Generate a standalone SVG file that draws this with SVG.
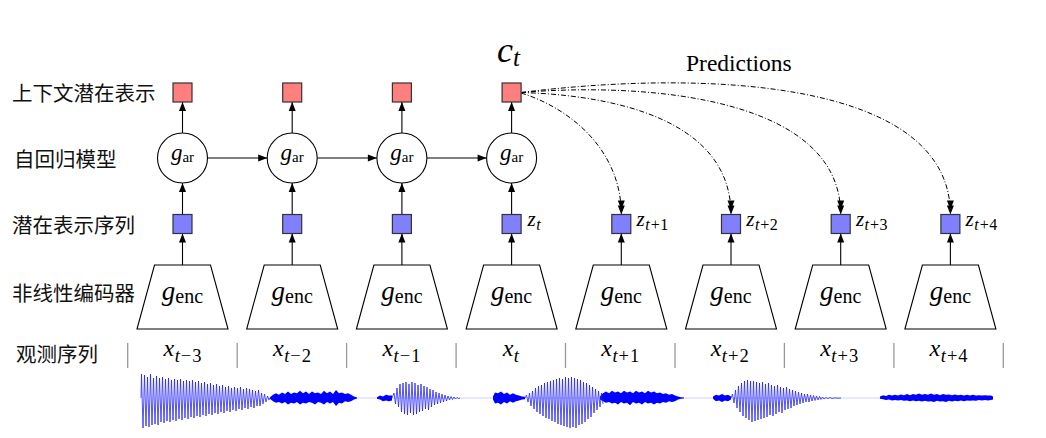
<svg xmlns="http://www.w3.org/2000/svg" width="1046" height="438" viewBox="0 0 1046 438">
<style>
.lbl{font-family:"Noto Sans CJK SC","Noto Sans",sans-serif;font-size:20.5px;fill:#111}
.m{font-family:"Liberation Serif","DejaVu Serif",serif;fill:#000}
.mi{font-style:italic}
.ctx{fill:#ff7f7f;stroke:#333;stroke-width:1.2}
.lat{fill:#8080ff;stroke:#333;stroke-width:1.2}
.ar{fill:#fff;stroke:#000;stroke-width:1.1}
.enc{fill:#fff;stroke:#000;stroke-width:1.1}
.ln{stroke:#000;stroke-width:1.1;fill:none;marker-end:url(#arr)}
.pd{stroke:#000;stroke-width:1;fill:none;stroke-dasharray:5 2 1 2;marker-end:url(#arr2)}
.sep{stroke:#999;stroke-width:1.3}
.wv{fill:none;stroke:#1a1aff;stroke-width:0.75;stroke-linejoin:round}
.band{fill:#0000ff;stroke:none}
</style>
<defs>
<marker id="arr" markerUnits="userSpaceOnUse" markerWidth="10" markerHeight="8" refX="9" refY="3.5" orient="auto" overflow="visible">
<path d="M0,0 L9,3.5 L0,7 Z" fill="#000"/>
</marker>
<marker id="arr2" markerUnits="userSpaceOnUse" markerWidth="15" markerHeight="8" refX="14" refY="3.5" orient="auto" overflow="visible">
<path d="M0,0 L9,3.5 L0,7 Z M5,0 L14,3.5 L5,7 Z" fill="#000"/>
</marker>
</defs>
<rect width="1046" height="438" fill="#fff"/>

<g id="row-labels">
<text class="lbl" x="12" y="101">上下文潜在表示</text>
<text class="lbl" x="14" y="167">自回归模型</text>
<text class="lbl" x="12" y="232.5">潜在表示序列</text>
<text class="lbl" x="12" y="301">非线性编码器</text>
<text class="lbl" x="16" y="361.5">观测序列</text>
</g>

<g id="ct-label">
<text class="m mi" x="497" y="62" font-size="36">c</text>
<text class="m mi" x="513" y="66" font-size="25">t</text>
</g>
<g id="predictions-label">
<text class="m" x="686" y="71" font-size="23.5">Predictions</text>
</g>

<g id="connectors">
<line class="ln" x1="182.5" y1="133" x2="182.5" y2="102"/>
<line class="ln" x1="292.2" y1="133" x2="292.2" y2="102"/>
<line class="ln" x1="401.9" y1="133" x2="401.9" y2="102"/>
<line class="ln" x1="511.6" y1="133" x2="511.6" y2="102"/>
<line class="ln" x1="207.5" y1="158" x2="267.2" y2="158"/>
<line class="ln" x1="317.2" y1="158" x2="376.9" y2="158"/>
<line class="ln" x1="426.9" y1="158" x2="486.6" y2="158"/>
<line class="ln" x1="182.5" y1="214.5" x2="182.5" y2="183"/>
<line class="ln" x1="292.2" y1="214.5" x2="292.2" y2="183"/>
<line class="ln" x1="401.9" y1="214.5" x2="401.9" y2="183"/>
<line class="ln" x1="511.6" y1="214.5" x2="511.6" y2="183"/>
<line class="ln" x1="182.5" y1="265" x2="182.5" y2="233.5"/>
<line class="ln" x1="292.2" y1="265" x2="292.2" y2="233.5"/>
<line class="ln" x1="401.9" y1="265" x2="401.9" y2="233.5"/>
<line class="ln" x1="511.6" y1="265" x2="511.6" y2="233.5"/>
<line class="ln" x1="621.3" y1="265" x2="621.3" y2="233.5"/>
<line class="ln" x1="731" y1="265" x2="731" y2="233.5"/>
<line class="ln" x1="840.7" y1="265" x2="840.7" y2="233.5"/>
<line class="ln" x1="950.4" y1="265" x2="950.4" y2="233.5"/>
<path class="pd" d="M521.1,93 C570,108 621.3,150 621.3,214.5"/>
<path class="pd" d="M521.1,92.5 C610,95 731,118 731,214.5"/>
<path class="pd" d="M521.1,92.5 C650,82 840.7,98 840.7,214.5"/>
<path class="pd" d="M521.1,92.5 C700,70 950.4,78 950.4,214.5"/>
</g>

<g id="ctx0"><rect class="ctx" x="173" y="83" width="19" height="19"/></g>
<g id="ctx1"><rect class="ctx" x="282.7" y="83" width="19" height="19"/></g>
<g id="ctx2"><rect class="ctx" x="392.4" y="83" width="19" height="19"/></g>
<g id="ctx3"><rect class="ctx" x="502.1" y="83" width="19" height="19"/></g>

<g id="gar0"><circle class="ar" cx="182.5" cy="158" r="25"/><text class="m" x="182.5" y="160" text-anchor="middle"><tspan class="mi" font-size="23">g</tspan><tspan font-size="15" dy="2">ar</tspan></text></g>
<g id="gar1"><circle class="ar" cx="292.2" cy="158" r="25"/><text class="m" x="292.2" y="160" text-anchor="middle"><tspan class="mi" font-size="23">g</tspan><tspan font-size="15" dy="2">ar</tspan></text></g>
<g id="gar2"><circle class="ar" cx="401.9" cy="158" r="25"/><text class="m" x="401.9" y="160" text-anchor="middle"><tspan class="mi" font-size="23">g</tspan><tspan font-size="15" dy="2">ar</tspan></text></g>
<g id="gar3"><circle class="ar" cx="511.6" cy="158" r="25"/><text class="m" x="511.6" y="160" text-anchor="middle"><tspan class="mi" font-size="23">g</tspan><tspan font-size="15" dy="2">ar</tspan></text></g>

<g id="z0"><rect class="lat" x="173" y="214.5" width="19" height="19"/></g>
<g id="z1"><rect class="lat" x="282.7" y="214.5" width="19" height="19"/></g>
<g id="z2"><rect class="lat" x="392.4" y="214.5" width="19" height="19"/></g>
<g id="z3"><rect class="lat" x="502.1" y="214.5" width="19" height="19"/><text class="m" x="527.5" y="226"><tspan class="mi" font-size="21">z</tspan><tspan class="mi" font-size="16" dy="4" dx="0.5">t</tspan></text></g>
<g id="z4"><rect class="lat" x="611.8" y="214.5" width="19" height="19"/><text class="m" x="636.5" y="226"><tspan class="mi" font-size="21">z</tspan><tspan class="mi" font-size="16" dy="4" dx="0.5">t</tspan><tspan font-size="16" dx="1">+</tspan><tspan font-size="16" dx="0.5">1</tspan></text></g>
<g id="z5"><rect class="lat" x="721.5" y="214.5" width="19" height="19"/><text class="m" x="746.2" y="226"><tspan class="mi" font-size="21">z</tspan><tspan class="mi" font-size="16" dy="4" dx="0.5">t</tspan><tspan font-size="16" dx="1">+</tspan><tspan font-size="16" dx="0.5">2</tspan></text></g>
<g id="z6"><rect class="lat" x="831.2" y="214.5" width="19" height="19"/><text class="m" x="855.9" y="226"><tspan class="mi" font-size="21">z</tspan><tspan class="mi" font-size="16" dy="4" dx="0.5">t</tspan><tspan font-size="16" dx="1">+</tspan><tspan font-size="16" dx="0.5">3</tspan></text></g>
<g id="z7"><rect class="lat" x="940.9" y="214.5" width="19" height="19"/><text class="m" x="965.6" y="226"><tspan class="mi" font-size="21">z</tspan><tspan class="mi" font-size="16" dy="4" dx="0.5">t</tspan><tspan font-size="16" dx="1">+</tspan><tspan font-size="16" dx="0.5">4</tspan></text></g>

<g id="enc0"><polygon class="enc" points="154.5,265 210.5,265 228,329 137,329"/><text class="m" x="182.5" y="300" text-anchor="middle"><tspan class="mi" font-size="27">g</tspan><tspan font-size="20" dy="3">enc</tspan></text></g>
<g id="enc1"><polygon class="enc" points="264.2,265 320.2,265 337.7,329 246.7,329"/><text class="m" x="292.2" y="300" text-anchor="middle"><tspan class="mi" font-size="27">g</tspan><tspan font-size="20" dy="3">enc</tspan></text></g>
<g id="enc2"><polygon class="enc" points="373.9,265 429.9,265 447.4,329 356.4,329"/><text class="m" x="401.9" y="300" text-anchor="middle"><tspan class="mi" font-size="27">g</tspan><tspan font-size="20" dy="3">enc</tspan></text></g>
<g id="enc3"><polygon class="enc" points="483.6,265 539.6,265 557.1,329 466.1,329"/><text class="m" x="511.6" y="300" text-anchor="middle"><tspan class="mi" font-size="27">g</tspan><tspan font-size="20" dy="3">enc</tspan></text></g>
<g id="enc4"><polygon class="enc" points="593.3,265 649.3,265 666.8,329 575.8,329"/><text class="m" x="621.3" y="300" text-anchor="middle"><tspan class="mi" font-size="27">g</tspan><tspan font-size="20" dy="3">enc</tspan></text></g>
<g id="enc5"><polygon class="enc" points="703,265 759,265 776.5,329 685.5,329"/><text class="m" x="731" y="300" text-anchor="middle"><tspan class="mi" font-size="27">g</tspan><tspan font-size="20" dy="3">enc</tspan></text></g>
<g id="enc6"><polygon class="enc" points="812.7,265 868.7,265 886.2,329 795.2,329"/><text class="m" x="840.7" y="300" text-anchor="middle"><tspan class="mi" font-size="27">g</tspan><tspan font-size="20" dy="3">enc</tspan></text></g>
<g id="enc7"><polygon class="enc" points="922.4,265 978.4,265 995.9,329 904.9,329"/><text class="m" x="950.4" y="300" text-anchor="middle"><tspan class="mi" font-size="27">g</tspan><tspan font-size="20" dy="3">enc</tspan></text></g>

<g id="observations">
<line class="sep" x1="127.7" y1="343" x2="127.7" y2="368"/>
<line class="sep" x1="237.2" y1="343" x2="237.2" y2="368"/>
<line class="sep" x1="346.6" y1="343" x2="346.6" y2="368"/>
<line class="sep" x1="456.1" y1="343" x2="456.1" y2="368"/>
<line class="sep" x1="565.5" y1="343" x2="565.5" y2="368"/>
<line class="sep" x1="675" y1="343" x2="675" y2="368"/>
<line class="sep" x1="784.4" y1="343" x2="784.4" y2="368"/>
<line class="sep" x1="893.9" y1="343" x2="893.9" y2="368"/>
<line class="sep" x1="1003.3" y1="343" x2="1003.3" y2="368"/>
<text class="m" x="182.5" y="356" text-anchor="middle"><tspan class="mi" font-size="24">x</tspan><tspan class="mi" font-size="18.5" dy="6" dx="0.5">t</tspan><tspan font-size="18.5" dx="1">−</tspan><tspan font-size="18.5" dx="1">3</tspan></text>
<text class="m" x="292" y="356" text-anchor="middle"><tspan class="mi" font-size="24">x</tspan><tspan class="mi" font-size="18.5" dy="6" dx="0.5">t</tspan><tspan font-size="18.5" dx="1">−</tspan><tspan font-size="18.5" dx="1">2</tspan></text>
<text class="m" x="401.4" y="356" text-anchor="middle"><tspan class="mi" font-size="24">x</tspan><tspan class="mi" font-size="18.5" dy="6" dx="0.5">t</tspan><tspan font-size="18.5" dx="1">−</tspan><tspan font-size="18.5" dx="1">1</tspan></text>
<text class="m" x="510.8" y="356" text-anchor="middle"><tspan class="mi" font-size="24">x</tspan><tspan class="mi" font-size="18.5" dy="6" dx="0.5">t</tspan></text>
<text class="m" x="620.3" y="356" text-anchor="middle"><tspan class="mi" font-size="24">x</tspan><tspan class="mi" font-size="18.5" dy="6" dx="0.5">t</tspan><tspan font-size="18.5" dx="1">+</tspan><tspan font-size="18.5" dx="1">1</tspan></text>
<text class="m" x="729.7" y="356" text-anchor="middle"><tspan class="mi" font-size="24">x</tspan><tspan class="mi" font-size="18.5" dy="6" dx="0.5">t</tspan><tspan font-size="18.5" dx="1">+</tspan><tspan font-size="18.5" dx="1">2</tspan></text>
<text class="m" x="839.2" y="356" text-anchor="middle"><tspan class="mi" font-size="24">x</tspan><tspan class="mi" font-size="18.5" dy="6" dx="0.5">t</tspan><tspan font-size="18.5" dx="1">+</tspan><tspan font-size="18.5" dx="1">3</tspan></text>
<text class="m" x="948.6" y="356" text-anchor="middle"><tspan class="mi" font-size="24">x</tspan><tspan class="mi" font-size="18.5" dy="6" dx="0.5">t</tspan><tspan font-size="18.5" dx="1">+</tspan><tspan font-size="18.5" dx="1">4</tspan></text>
</g>

<g id="waveform">
<line x1="268" y1="398" x2="880" y2="398" stroke="#d0d0ff" stroke-width="1"/>
<polyline class="wv" points="141,398 141.5,374 143,428 144.5,375 146,426 147.5,377 149,427 150.5,374 152,425 153.5,378 155,424 156.5,376 158,425 159.5,378 161,422 162.5,377 164,423 165.5,379 167,421 168.5,378 170,422 171.5,380 173,420 174.5,379 176,421 177.5,380 179,419 180.5,379 182,420 183.5,381 185,418 186.5,380 188,419 189.5,381 191,417 192.5,380 194,418 195.5,382 197,416 198.5,381 200,417 201.5,383 203,415 204.5,382 206,416 207.5,384 209,414 210.5,383 212,415 213.5,385 215,413 216.5,384 218,414 219.5,386 221,412 222.5,385 224,413 225.5,387 227,411 228.5,386 230,412 231.5,388 233,410 234.5,387 236,411 237.5,388 239,409 240.5,387 242,410 243.5,389 245,408 246.5,388 248,409 249.5,389 251,407 252.5,390 254,408 255.5,391 257,406 258.5,390 260,406 261.5,393 263,404 264.5,394 266,402 267.5,396 269,400 270,398"/>
<g transform="matrix(1,0,0,0.8,0,79.6)">
<polygon class="band" points="270,397 273,394 276,392 279,394 282,391 285,393 288,390 291,393 294,391 297,392 300,389 303,392 306,390 309,393 312,390 315,392 318,391 321,393 324,389 327,392 330,390 333,393 336,388 339,392 342,391 345,393 348,392 351,394 354,396 357,397.5 357,398.5 354,400 351,402 348,403 345,402 342,405 339,404 336,408 333,403 330,405 327,403 324,406 321,404 318,403 315,406 312,404 309,403 306,405 303,404 300,406 297,403 294,405 291,404 288,406 285,403 282,405 279,403 276,404 273,402 270,399"/>
<polygon class="band" points="377,397 380,395 383,396 386,394 389,395 392,395 392,401 389,402 386,401 383,402 380,400 377,399"/>
<polygon class="band" points="493,396 495,391 498,392 501,390 504,393 507,391 510,394 513,392 516,394 519,395 522,396 525,396.5 525,399.5 522,400 519,401 516,402 513,404 510,402 507,405 504,403 501,406 498,404 495,405 493,400"/>
<polygon class="band" points="600,396 603,392 606,390 609,392 612,389 615,391 618,390 621,392 624,389 627,391 630,390 633,392 636,389 639,391 642,390 645,392 648,389 651,391 654,390 657,392 660,391 663,393 666,392 669,394 672,393 675,395 678,396 681,397 684,397.5 684,398.5 681,399 678,400 675,402 672,403 669,402 666,404 663,403 660,405 657,404 654,406 651,404 648,405 645,403 642,406 639,404 636,405 633,403 630,407 627,404 624,405 621,403 618,406 615,404 612,405 609,403 606,404 603,402 600,400"/>
<polygon class="band" points="713,396 716,394 719,395 722,393 725,395 728,394 731,396 731,400 728,402 725,401 722,403 719,401 716,402 713,399"/>
<polygon class="band" points="880,396 883,394.5 886,395.5 889,394 892,395 895,394 898,395 901,393.5 904,394.5 907,393 910,394.5 913,393 916,394 919,392.5 922,394 925,393 928,394 931,392.5 934,394 937,393 940,394.5 943,393 946,394 949,393.5 952,394.5 955,393.5 958,394.5 961,394 964,395 967,394 970,395 973,394 976,395 979,394.5 982,395 985,394.5 988,395 991,395 993,396 993,400 991,400.5 988,401 985,400.5 982,401 979,400.5 976,401.5 973,401 970,401.5 967,401 964,402 961,401 958,402 955,401.5 952,402.5 949,401.5 946,403 943,402 940,402.5 937,401.5 934,403 931,402 928,402.5 925,401.5 922,402.5 919,401.5 916,402 913,401 910,402 907,401 904,401.5 901,400.5 898,401 895,400.5 892,401 889,400 886,400.5 883,399.5 880,399"/>
</g>
<polyline class="wv" points="392,398 394,393 395.5,404 397,388 398.5,407 400,384 401.5,412 403,383 404.5,414 406,382 407.5,415 409,384 410.5,413 412,382 413.5,415 415,383 416.5,414 418,385 419.5,412 421,384 422.5,411 424,386 425.5,409 427,387 428.5,410 430,389 431.5,407 433,390 434.5,405 436,392 437.5,404 439,393 440.5,403 442,394 443.5,402 445,395 446.5,401 448,396 449.5,400 451,396.5 452.5,399.5 454,397 455.5,399 457,397.5 458.5,398.5 460,398"/>
<polyline class="wv" points="525,398 526.5,395 528,402 529.5,393 531,406 532.5,391 534,409 535.5,388 537,412 538.5,386 540,414 541.5,385 543,416 544.5,383 546,418 547.5,382 549,419 550.5,381 552,421 553.5,380 555,422 556.5,379 558,424 559.5,378 561,425 562.5,379 564,426 565.5,377 567,427 568.5,378 570,428 571.5,377 573,427 574.5,378 576,428 577.5,379 579,425 580.5,380 582,424 583.5,382 585,422 586.5,383 588,419 589.5,385 591,417 592.5,387 594,413 595.5,389 597,410 598.5,391 600,407 601.5,393 603,404"/>
<polyline class="wv" points="731,398 732.5,394 734,403 735.5,390 737,408 738.5,386 740,412 741.5,383 743,416 744.5,381 746,418 747.5,380 749,420 750.5,381 752,422 753.5,381 755,421 756.5,382 758,420 759.5,383 761,419 762.5,382 764,418 765.5,384 767,417 768.5,383 770,415 771.5,385 773,416 774.5,386 776,414 777.5,385 779,412 780.5,387 782,413 783.5,388 785,410 786.5,387 788,409 789.5,389 791,408 792.5,390 794,406 795.5,391 797,405 798.5,392 800,404 801.5,393 803,403 804.5,394 806,402 807.5,394 809,402 810.5,395 812,401 813.5,395.5 815,400.5 816.5,396 818,400 819.5,396.5 821,399.5 822.5,397 824,399 826,397.5 828,398.5 830,397.5 832,398.5 835,397.8 838,398.2 841,398"/>
</g>
</svg>
